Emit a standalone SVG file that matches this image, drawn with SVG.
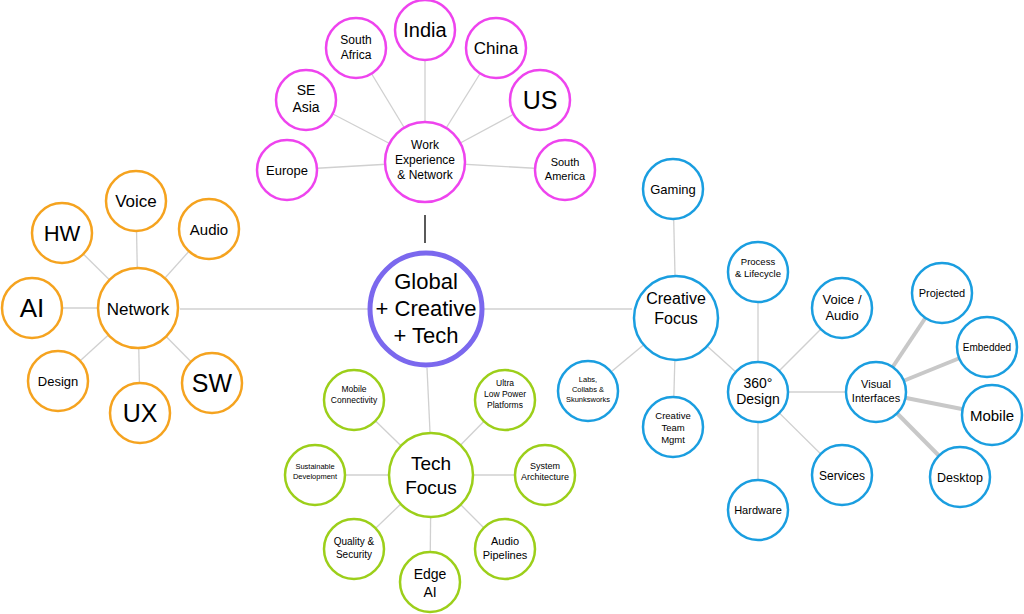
<svg xmlns="http://www.w3.org/2000/svg" width="1024" height="614" viewBox="0 0 1024 614">
<style>
text{font-family:"Liberation Sans",Arial,sans-serif;text-anchor:middle;fill:#000}
circle{fill:#fff;stroke-width:2.5}
.p circle{stroke:#ee44ee}.o circle{stroke:#f5a31f}.b circle{stroke:#1a9ee0}.g circle{stroke:#9ccf1a}
.l{stroke:#d0d0d0;stroke-width:1.3}
.t{stroke:#c8c8c8;stroke-width:4}
</style>
<rect width="1024" height="614" fill="#fff"/>
<g id="connectors">
<line class="l" x1="180" y1="309" x2="368" y2="309"/>
<line class="l" x1="484" y1="309" x2="632" y2="309"/>
<line class="l" x1="427" y1="368" x2="430" y2="432"/>
<line x1="425" y1="215" x2="425" y2="243" stroke="#000" stroke-width="1.3"/>
<g class="l">
<line x1="425" y1="162" x2="287" y2="170"/><line x1="425" y1="162" x2="306" y2="100"/><line x1="425" y1="162" x2="356" y2="48"/><line x1="425" y1="162" x2="425" y2="30"/><line x1="425" y1="162" x2="496" y2="48"/><line x1="425" y1="162" x2="540" y2="100"/><line x1="425" y1="162" x2="565" y2="170"/>
<line x1="138" y1="308" x2="32" y2="308"/><line x1="138" y1="308" x2="62" y2="233"/><line x1="138" y1="308" x2="136" y2="201"/><line x1="138" y1="308" x2="209" y2="229"/><line x1="138" y1="308" x2="58" y2="381"/><line x1="138" y1="308" x2="140" y2="413"/><line x1="138" y1="308" x2="212" y2="383"/>
<line x1="676" y1="318" x2="673" y2="189"/><line x1="676" y1="318" x2="588" y2="391"/><line x1="676" y1="318" x2="673" y2="427"/><line x1="676" y1="318" x2="758" y2="392"/>
<line x1="758" y1="392" x2="758" y2="272"/><line x1="758" y1="392" x2="842" y2="308"/><line x1="758" y1="392" x2="842" y2="475"/><line x1="758" y1="392" x2="758" y2="510"/><line x1="758" y1="392" x2="876" y2="392"/>
<line x1="431" y1="475" x2="354" y2="400"/><line x1="431" y1="475" x2="505" y2="400"/><line x1="431" y1="475" x2="315" y2="475"/><line x1="431" y1="475" x2="545" y2="475"/><line x1="431" y1="475" x2="354" y2="549"/><line x1="431" y1="475" x2="430" y2="582"/><line x1="431" y1="475" x2="505" y2="549"/>
</g>
<g class="t">
<line x1="876" y1="392" x2="942" y2="293"/><line x1="876" y1="392" x2="987" y2="347"/><line x1="876" y1="392" x2="992" y2="415"/><line x1="876" y1="392" x2="960" y2="477"/>
</g>
</g>
<g id="global"><circle cx="426" cy="309" r="56" style="stroke:#7b68ee;stroke-width:5"/><text x="426" y="289" font-size="22"><tspan x="426" dy="0">Global</tspan><tspan x="426" dy="27">+ Creative</tspan><tspan x="426" dy="27">+ Tech</tspan></text></g>
<g class="p">
<g id="work"><circle cx="425" cy="162" r="40"/><text x="425" y="149" font-size="12"><tspan x="425">Work</tspan><tspan x="425" dy="15">Experience</tspan><tspan x="425" dy="15">&amp; Network</tspan></text></g>
<g id="europe"><circle cx="287" cy="170" r="30"/><text x="287" y="175" font-size="13">Europe</text></g>
<g id="seasia"><circle cx="306" cy="100" r="30"/><text x="306" y="95" font-size="14"><tspan x="306">SE</tspan><tspan x="306" dy="17">Asia</tspan></text></g>
<g id="safrica"><circle cx="356" cy="48" r="30"/><text x="356" y="44" font-size="12"><tspan x="356">South</tspan><tspan x="356" dy="15">Africa</tspan></text></g>
<g id="india"><circle cx="425" cy="30" r="30"/><text x="425" y="37" font-size="20">India</text></g>
<g id="china"><circle cx="496" cy="48" r="30"/><text x="496" y="54" font-size="17">China</text></g>
<g id="us"><circle cx="540" cy="100" r="30"/><text x="540" y="109" font-size="25">US</text></g>
<g id="samerica"><circle cx="565" cy="170" r="30"/><text x="565" y="166" font-size="11"><tspan x="565">South</tspan><tspan x="565" dy="14">America</tspan></text></g>
</g>
<g class="o">
<g id="network"><circle cx="138" cy="308" r="40"/><text x="138" y="315" font-size="17">Network</text></g>
<g id="ai"><circle cx="32" cy="308" r="30"/><text x="32" y="317" font-size="26">AI</text></g>
<g id="hw"><circle cx="62" cy="233" r="30"/><text x="62" y="241" font-size="22">HW</text></g>
<g id="voice"><circle cx="136" cy="201" r="30"/><text x="136" y="207" font-size="17">Voice</text></g>
<g id="audio"><circle cx="209" cy="229" r="30"/><text x="209" y="235" font-size="15">Audio</text></g>
<g id="design"><circle cx="58" cy="381" r="30"/><text x="58" y="386" font-size="13">Design</text></g>
<g id="ux"><circle cx="140" cy="413" r="30"/><text x="140" y="422" font-size="25">UX</text></g>
<g id="sw"><circle cx="212" cy="383" r="30"/><text x="212" y="392" font-size="25">SW</text></g>
</g>
<g class="b">
<g id="creative"><circle cx="676" cy="318" r="42"/><text x="676" y="304" font-size="16"><tspan x="676">Creative</tspan><tspan x="676" dy="20">Focus</tspan></text></g>
<g id="gaming"><circle cx="673" cy="189" r="30"/><text x="673" y="194" font-size="13">Gaming</text></g>
<g id="labs"><circle cx="588" cy="391" r="30"/><text x="588" y="382" font-size="7.5"><tspan x="588">Labs,</tspan><tspan x="588" dy="10">Collabs &amp;</tspan><tspan x="588" dy="10">Skunksworks</tspan></text></g>
<g id="team"><circle cx="673" cy="427" r="30"/><text x="673" y="419" font-size="9.5"><tspan x="673">Creative</tspan><tspan x="673" dy="12">Team</tspan><tspan x="673" dy="12">Mgmt</tspan></text></g>
<g id="d360"><circle cx="758" cy="392" r="30"/><text x="758" y="388" font-size="14"><tspan x="758">360°</tspan><tspan x="758" dy="16">Design</tspan></text></g>
<g id="process"><circle cx="758" cy="272" r="30"/><text x="758" y="265" font-size="9.5"><tspan x="758">Process</tspan><tspan x="758" dy="12">&amp; Lifecycle</tspan></text></g>
<g id="voiceaudio"><circle cx="842" cy="308" r="30"/><text x="842" y="304" font-size="13"><tspan x="842">Voice /</tspan><tspan x="842" dy="16">Audio</tspan></text></g>
<g id="services"><circle cx="842" cy="475" r="30"/><text x="842" y="480" font-size="12">Services</text></g>
<g id="hardware"><circle cx="758" cy="510" r="30"/><text x="758" y="514" font-size="11">Hardware</text></g>
<g id="visual"><circle cx="876" cy="392" r="30"/><text x="876" y="388" font-size="11"><tspan x="876">Visual</tspan><tspan x="876" dy="14">Interfaces</tspan></text></g>
<g id="projected"><circle cx="942" cy="293" r="30"/><text x="942" y="297" font-size="11">Projected</text></g>
<g id="embedded"><circle cx="987" cy="347" r="30"/><text x="987" y="351" font-size="10">Embedded</text></g>
<g id="mobile"><circle cx="992" cy="415" r="30"/><text x="992" y="421" font-size="15">Mobile</text></g>
<g id="desktop"><circle cx="960" cy="477" r="30"/><text x="960" y="482" font-size="12.5">Desktop</text></g>
</g>
<g class="g">
<g id="tech"><circle cx="431" cy="475" r="42"/><text x="431" y="470" font-size="19"><tspan x="431">Tech</tspan><tspan x="431" dy="24">Focus</tspan></text></g>
<g id="mobconn"><circle cx="354" cy="400" r="30"/><text x="354" y="392" font-size="8.5"><tspan x="354">Mobile</tspan><tspan x="354" dy="11">Connectivity</tspan></text></g>
<g id="ultra"><circle cx="505" cy="400" r="30"/><text x="505" y="386" font-size="8.5"><tspan x="505">Ultra</tspan><tspan x="505" dy="11">Low Power</tspan><tspan x="505" dy="11">Platforms</tspan></text></g>
<g id="sustain"><circle cx="315" cy="475" r="30"/><text x="315" y="469" font-size="7.5"><tspan x="315">Sustainable</tspan><tspan x="315" dy="10">Development</tspan></text></g>
<g id="system"><circle cx="545" cy="475" r="30"/><text x="545" y="469" font-size="9"><tspan x="545">System</tspan><tspan x="545" dy="11">Architecture</tspan></text></g>
<g id="quality"><circle cx="354" cy="549" r="30"/><text x="354" y="545" font-size="10"><tspan x="354">Quality &amp;</tspan><tspan x="354" dy="13">Security</tspan></text></g>
<g id="edge"><circle cx="430" cy="582" r="30"/><text x="430" y="579" font-size="14"><tspan x="430">Edge</tspan><tspan x="430" dy="18">AI</tspan></text></g>
<g id="pipelines"><circle cx="505" cy="549" r="30"/><text x="505" y="545" font-size="11"><tspan x="505">Audio</tspan><tspan x="505" dy="14">Pipelines</tspan></text></g>
</g>
</svg>
